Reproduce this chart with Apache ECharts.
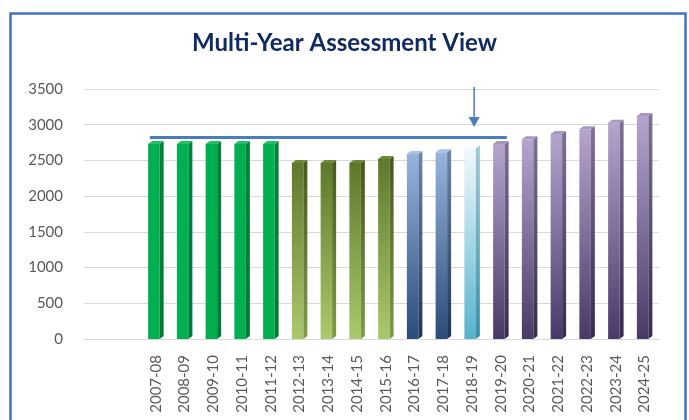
<!DOCTYPE html>
<html>
<head>
<meta charset="utf-8">
<script src="https://cdn.jsdelivr.net/npm/echarts@6/dist/echarts.min.js"></script>
<style>
  html, body { margin: 0; padding: 0; background: #fff; }
  #main { width: 689px; height: 420px; }
</style>
</head>
<body>
<div id="main"></div>
<script>
var categories = ["2007-08", "2008-09", "2009-10", "2010-11", "2011-12", "2012-13", "2013-14", "2014-15", "2015-16",
  "2016-17", "2017-18", "2018-19", "2019-20", "2020-21", "2021-22", "2022-23", "2023-24", "2024-25"];
var values = [2730, 2730, 2730, 2730, 2730, 2465, 2465, 2465, 2520, 2590, 2615, 2670, 2730, 2796, 2870, 2936, 3028, 3122];
var yTicks = [0, 500, 1000, 1500, 2000, 2500, 3000, 3500];

// reference line and arrow
var refLine = { from: "2007-08", to: "2019-20", value: 2821 };
var arrow = { at: "2018-19", from: 3528, to: 2968 };

// colour group of each bar (index into palette)
var barGroup = [0, 0, 0, 0, 0, 1, 1, 1, 1, 2, 2, 3, 4, 4, 4, 4, 4, 4];
var palette = [
  { front: ["#00b050", "#00b050"], side: ["#00843a", "#007a35"], top: "#22c064" },
  { front: ["#5e782c", "#abc96c"], side: ["#46591f", "#7e9c47"], top: "#6c8a36" },
  { front: ["#97b4dd", "#2b4b79"], side: ["#6b86ab", "#1e3556"], top: "#a9c1e2" },
  { front: ["#f2fafc", "#56b2cd"], side: ["#a3cbd6", "#3a8ea6"], top: "#f6fbfd" },
  { front: ["#b5a5cd", "#493967"], side: ["#7f7098", "#362a4d"], top: "#a896c0" }
];

var pad = 2; // empty slots before the first year
var axisData = ["", ""].concat(categories);

var chart = echarts.init(document.getElementById("main"));
window.addEventListener("resize", function () { chart.resize(); });

function grad(c) {
  return new echarts.graphic.LinearGradient(0, 0, 0, 1, [
    { offset: 0, color: c[0] }, { offset: 1, color: c[1] }
  ]);
}

function renderBar(params, api) {
  var i = api.value(0);
  var t = api.coord([i, api.value(1)]);
  var b = api.coord([i, 0]);
  var w = 11.5, d = 4, h = 3;
  var x0 = t[0] - (w + d) / 2;
  var x1 = x0 + w;
  var g = palette[barGroup[i - pad]];
  return {
    type: "group",
    children: [
      { type: "rect", shape: { x: x0, y: t[1], width: w, height: b[1] - t[1] }, style: { fill: grad(g.front) } },
      { type: "polygon", shape: { points: [[x1, t[1]], [x1 + d, t[1] - h], [x1 + d, b[1] - h], [x1, b[1]]] }, style: { fill: grad(g.side) } },
      { type: "polygon", shape: { points: [[x0, t[1]], [x0 + d, t[1] - h], [x1 + d, t[1] - h], [x1, t[1]]] }, style: { fill: g.top } }
    ]
  };
}

function renderRefLine(params, api) {
  var a = api.coord([api.value(0), api.value(2)]);
  var b = api.coord([api.value(1), api.value(2)]);
  return {
    type: "line",
    shape: { x1: a[0] - 6, y1: a[1], x2: b[0] + 6, y2: b[1] },
    style: { stroke: "#4a7dbf", lineWidth: 3 }
  };
}

function renderArrow(params, api) {
  var a = api.coord([api.value(0), api.value(1)]);
  var b = api.coord([api.value(0), api.value(2)]);
  var x = a[0] + 2;
  return {
    type: "group",
    children: [
      { type: "line", shape: { x1: x, y1: a[1], x2: x, y2: b[1] - 8 }, style: { stroke: "#4a7dbf", lineWidth: 1.5 } },
      { type: "polygon", shape: { points: [[x - 5.5, b[1] - 10], [x + 5.5, b[1] - 10], [x, b[1]]] }, style: { fill: "#4a7dbf" } }
    ]
  };
}

var option = {
  backgroundColor: "#ffffff",
  textStyle: { fontFamily: "Lato" },
  title: {
    text: "Multi-Year Assessment View",
    left: "center",
    top: 26,
    textStyle: { fontFamily: "Lato", fontSize: 24, fontWeight: "bold", color: "#102a63" }
  },
  graphic: [{
    type: "rect",
    shape: { x: 10.5, y: 13.5, width: 675, height: 420 },
    style: { fill: null, stroke: "#4472c4", lineWidth: 2.5 },
    z: 100
  }],
  grid: { left: 84, right: 30, top: 89, bottom: 81 },
  xAxis: {
    type: "category",
    data: axisData,
    axisLine: { show: true, lineStyle: { color: "#d9d9d9" } },
    axisTick: { show: false },
    axisLabel: { rotate: 90, interval: 0, margin: 16, color: "#595959", fontSize: 15, fontFamily: "Lato" }
  },
  yAxis: {
    type: "value",
    min: yTicks[0],
    max: yTicks[yTicks.length - 1],
    interval: yTicks[1] - yTicks[0],
    axisLine: { show: false },
    axisTick: { show: false },
    axisLabel: {
      margin: 21, color: "#595959", fontSize: 15, fontFamily: "Lato", padding: [7, 0, 0, 0],
      formatter: function (v) { return String(v); }
    },
    splitLine: { lineStyle: { color: "#d9d9d9", width: 1.2 } }
  },
  series: [
    {
      type: "custom",
      renderItem: renderBar,
      data: values.map(function (v, k) { return [k + pad, v]; }),
      clip: false
    },
    {
      type: "custom",
      renderItem: renderRefLine,
      data: [[axisData.indexOf(refLine.from), axisData.indexOf(refLine.to), refLine.value]],
      clip: false,
      z: 5
    },
    {
      type: "custom",
      renderItem: renderArrow,
      data: [[axisData.indexOf(arrow.at), arrow.from, arrow.to]],
      clip: false,
      z: 5
    }
  ]
};

chart.setOption(option);
</script>
</body>
</html>
